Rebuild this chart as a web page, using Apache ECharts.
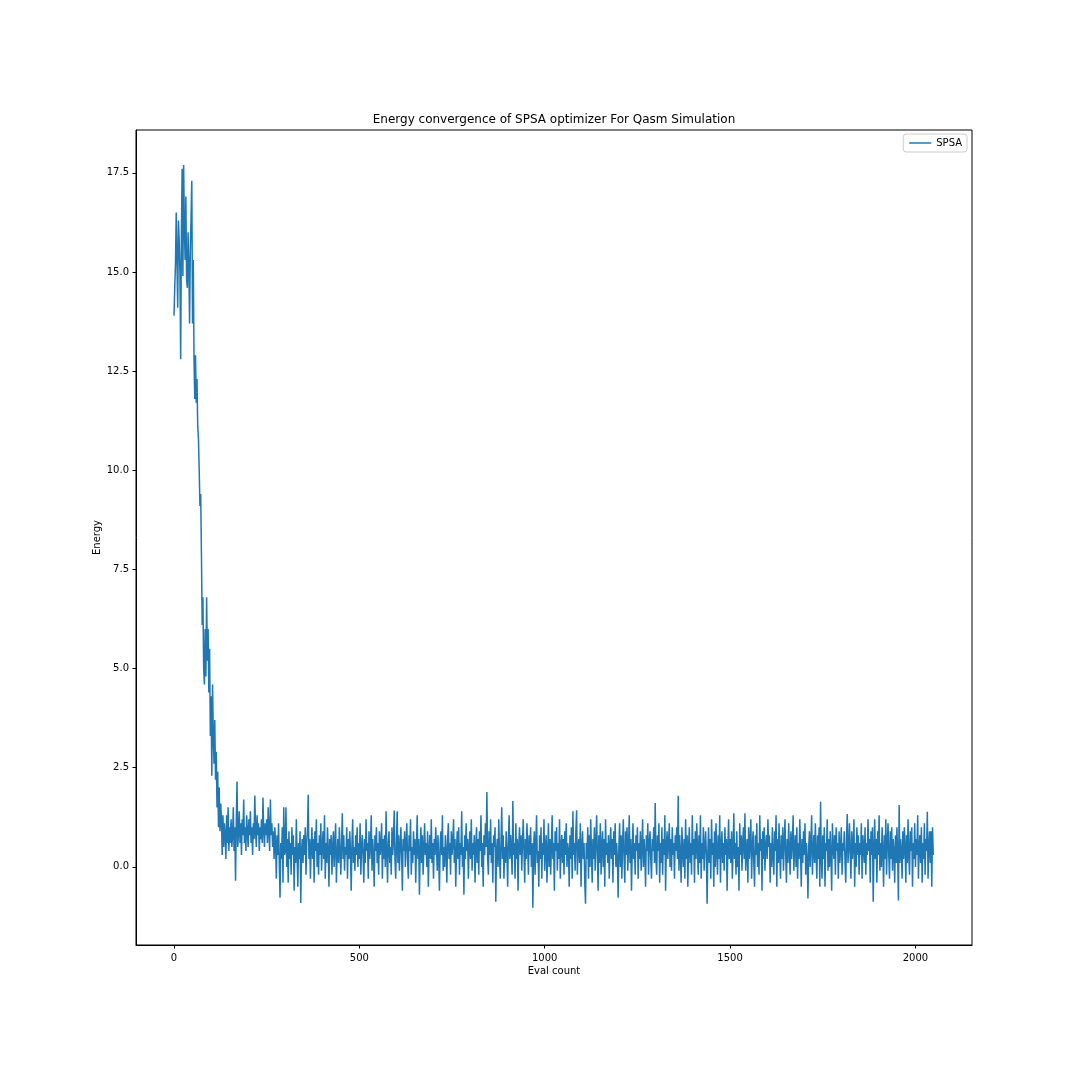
<!DOCTYPE html>
<html>
<head>
<meta charset="utf-8">
<script src="https://cdn.jsdelivr.net/npm/echarts@6/dist/echarts.min.js"></script>
<style>html,body{margin:0;padding:0;background:#fff}#c{width:1080px;height:1080px}</style>
</head>
<body>
<div id="c"></div>
<script>
const EVAL_STEP = 2; // eval count spacing between stored samples
const energy = [
13.9,14.6,15.2,16.5,15.3,14.1,16.3,15.8,15.0,12.8,16.0,17.6,14.9,17.7,16.1,15.3,16.9,14.8,14.6,16.0,15.2,13.7,15.5,16.4,17.3,
13.7,15.3,12.8,11.8,12.9,11.7,12.3,11.1,10.8,10.0,9.1,9.4,7.9,6.1,6.8,5.0,4.6,6.0,4.8,6.8,5.2,6.0,4.4,5.5,3.3,
4.3,2.3,4.6,3.3,2.6,3.7,2.2,2.9,1.5,2.4,1.0,2.0,0.9,1.6,1.2,0.3,1.3,0.5,1.1,0.8,0.2,1.3,0.6,1.5,0.4,
1.0,0.6,1.2,0.5,0.8,1.5,0.4,1.0,-0.35,1.1,2.15,0.5,0.9,1.4,0.6,1.1,0.3,1.2,0.8,1.7,0.6,1.0,0.4,1.3,0.9,
0.5,1.2,0.8,1.4,0.6,1.0,0.3,1.1,0.7,1.8,0.9,0.5,1.3,0.8,1.1,0.4,1.0,0.7,1.2,0.6,1.75,0.9,0.5,1.1,0.8,
1.2,0.6,1.5,0.9,0.4,1.7,0.8,1.1,0.5,0.9,0.2,1.0,0.6,-0.3,0.8,0.3,1.1,0.1,-0.78,0.6,0.2,1.0,-0.4,1.5,0.3,
0.4,1.5,0.0,0.7,-0.4,0.9,0.2,0.6,-0.2,1.0,0.3,0.8,-0.6,0.5,0.1,1.2,0.3,-0.5,0.6,0.2,0.9,-0.91,0.4,0.7,0.1,
0.8,0.3,1.0,-0.2,0.6,0.9,1.82,0.2,0.7,-0.3,0.5,1.0,0.2,0.7,-0.4,0.9,0.4,1.2,0.0,0.6,-0.2,0.8,0.3,1.1,-0.1,
0.5,0.9,0.2,1.3,-0.3,0.6,0.1,1.0,0.4,-0.5,0.7,0.3,0.8,-0.2,0.5,0.9,0.0,0.6,1.1,-0.4,0.3,0.7,0.1,1.0,0.4,
-0.2,0.6,1.35,0.2,0.8,-0.1,0.5,0.3,1.0,-0.3,0.7,0.2,0.9,0.4,-0.6,0.6,1.2,0.1,0.5,-0.1,0.8,0.3,1.0,0.0,0.6,
0.2,1.1,-0.2,0.5,0.8,0.3,-0.4,0.7,0.1,1.2,0.4,0.6,-0.3,0.9,0.2,0.5,1.3,-0.1,0.7,0.3,-0.5,0.8,0.4,1.0,0.1,
0.6,-0.2,0.9,0.3,0.5,1.1,-0.3,0.7,0.2,0.8,0.0,1.4,0.4,-0.4,0.6,0.9,0.1,0.5,-0.2,1.0,0.3,0.7,1.42,0.2,-0.3,
0.6,1.4,0.1,0.8,-0.1,0.5,1.0,0.3,-0.6,0.7,0.4,0.9,0.0,0.6,1.1,0.2,-0.3,0.8,0.4,1.2,-0.2,0.5,0.1,0.9,0.3,
0.7,-0.4,0.5,1.3,0.2,0.7,-0.7,0.4,1.0,0.1,0.8,-0.2,0.5,1.1,0.3,0.6,0.0,0.9,-0.5,0.4,0.8,0.2,1.2,0.1,0.6,
-0.3,0.7,0.3,1.0,0.5,-0.1,0.8,0.2,-0.6,0.6,0.9,0.3,1.3,-0.1,0.5,0.0,0.8,0.4,-0.4,0.7,1.1,0.2,0.6,-0.2,0.9,
0.3,0.6,1.2,0.1,0.7,-0.5,0.4,0.9,0.2,1.0,-0.2,0.6,0.3,1.4,0.0,0.5,-0.7,0.8,0.2,1.1,0.4,0.7,-0.3,0.5,0.9,
0.2,1.2,-0.1,0.6,0.3,0.8,-0.4,0.5,1.0,0.1,0.7,-0.2,0.9,0.4,1.3,0.0,0.6,-0.5,0.8,0.3,1.1,0.5,1.89,0.2,-0.2,
0.9,0.3,1.2,0.1,0.6,-0.4,0.8,0.5,1.0,-0.88,0.4,0.7,0.0,1.2,0.3,-0.3,0.6,1.5,0.2,0.8,-0.3,0.5,0.1,0.9,0.4,
-0.5,0.7,1.3,0.2,0.8,0.4,-0.2,1.66,0.3,0.6,-0.3,1.1,0.2,0.7,-0.6,0.5,1.0,0.3,0.8,-0.1,0.6,1.2,0.4,-0.4,0.7,
0.2,1.1,0.5,-0.2,0.8,0.3,1.0,0.0,0.6,-1.03,0.5,0.9,-0.2,0.6,1.3,0.1,0.4,-0.5,0.8,0.2,1.0,-0.3,0.6,0.3,1.2,
-0.1,0.5,0.8,-0.4,0.3,1.1,0.0,0.7,-0.2,0.5,1.3,0.2,0.6,-0.6,0.9,0.4,1.0,-0.1,0.6,0.2,1.2,-0.3,0.5,0.8,0.1,
0.7,-0.2,0.9,0.3,1.1,0.0,0.6,0.4,-0.5,0.8,0.2,1.0,-0.3,1.4,0.3,0.6,-0.1,0.9,1.43,-0.2,0.5,0.7,0.1,1.1,-0.5,
0.5,0.9,0.2,0.6,-0.4,-0.93,0.6,0.2,1.0,-0.3,0.8,0.0,1.2,0.4,-0.4,0.7,0.2,1.0,-0.1,0.6,1.3,0.3,-0.6,0.8,0.1,
1.1,-0.2,0.5,0.9,0.0,0.7,-0.5,1.2,0.3,0.6,0.1,0.8,-0.3,0.5,1.0,0.2,0.7,-0.4,0.9,0.3,1.1,0.0,0.6,0.2,-0.78,
0.5,1.1,0.0,0.8,-0.3,0.6,1.2,0.2,-0.4,0.9,0.3,1.0,-0.1,0.5,1.3,0.1,0.7,-0.6,0.4,1.1,0.2,0.6,-0.2,0.8,0.4,
1.0,-0.3,0.6,0.2,0.9,-0.1,0.5,1.2,0.0,0.7,0.3,-0.5,0.8,0.4,1.1,-0.2,0.6,0.9,0.2,-0.3,0.7,0.4,1.0,0.1,1.61,
0.2,-0.2,0.8,0.4,1.1,-0.4,0.6,0.1,1.0,-0.2,0.7,0.3,1.3,-0.6,0.5,0.9,0.2,0.6,1.1,0.0,0.7,-0.1,1.0,0.3,0.6,
-0.3,0.8,0.4,1.0,0.2,1.79,-0.1,0.8,0.3,-0.4,1.0,0.4,0.0,0.7,-0.3,1.2,0.2,0.8,-0.5,0.5,1.0,0.1,0.6,-0.2,1.3,
0.3,0.7,-0.4,0.9,0.2,1.1,0.5,-0.2,0.8,0.1,1.3,-0.3,0.6,0.2,1.0,-0.1,0.5,0.9,0.3,-0.93,0.4,1.0,0.1,0.7,-0.3,
1.2,0.3,0.6,-0.5,0.9,0.0,1.1,0.4,-0.2,0.8,0.2,1.3,-0.4,0.5,0.9,0.1,0.6,-0.1,1.0,0.3,0.7,-0.6,0.5,1.2,0.2,
0.7,0.1,0.9,-0.3,0.4,1.35,0.2,0.6,-0.2,0.9,0.0,0.5,-0.6,1.1,0.3,0.8,-0.1,0.6,1.0,0.2,1.35,-0.1,0.4,0.7,-0.4,
1.0,0.2,0.6,1.2,-0.3,0.5,0.9,0.1,-0.5,0.8,0.3,1.1,0.0,0.6,-0.2,1.3,0.4,0.7,-0.6,0.9,0.2,1.0,-0.1,0.5,0.8,
0.2,1.2,0.5,0.8,-0.4,0.6,0.0,1.0,0.3,-0.2,0.9,0.4,1.3,-0.5,0.7,0.1,1.1,0.3,-0.3,0.8,0.2,1.0,-0.1,0.6,1.2,
0.3,-0.4,0.7,0.1,1.1,0.4,-0.2,0.9,0.2,0.6,1.3,-0.1,0.5,0.8,0.0,1.0,-0.3,0.6,0.2,1.2,0.4,-0.5,0.7,0.1,0.9,
0.3,1.1,-0.2,0.6,0.2,-0.8,0.5,0.9,0.0,0.6,1.3,-0.2,0.4,0.8,0.1,1.1,0.3,-0.3,0.8,0.2,1.0,-0.5,1.64,0.3,-0.3,
0.8,0.2,1.0,-0.5,0.6,0.4,1.2,-0.1,0.7,0.0,0.9,0.3,-0.6,1.1,0.5,0.2,0.8,-0.2,1.0,0.4,0.6,-0.3,0.9,0.1,0.5,
1.0,-0.2,0.6,0.4,0.9,0.1,-0.4,0.7,1.33,0.1,0.5,1.1,0.3,-0.3,0.9,0.2,0.5,1.2,-0.5,0.6,0.0,1.0,0.3,0.8,-0.2,
0.6,0.3,1.1,-0.3,0.8,0.5,0.1,1.0,-0.2,0.6,0.3,1.2,0.4,0.7,-0.4,0.9,0.3,1.0,-0.88,0.4,1.2,0.2,0.7,-0.4,0.9,
0.3,1.3,-0.1,0.6,0.0,1.0,0.4,-0.5,0.8,0.2,1.2,-0.2,0.6,1.1,0.3,-0.3,0.9,0.2,1.0,-0.1,0.7,0.4,-0.4,0.8,0.1,
1.0,0.3,-0.85,1.56,0.1,0.7,0.4,-0.3,0.9,0.2,1.0,0.5,-0.4,0.8,0.1,1.2,0.3,-0.2,0.9,0.4,1.0,-0.5,0.6,0.2,1.1,
0.0,0.7,0.3,1.3,-0.3,0.5,0.8,0.1,1.0,-0.4,0.6,0.2,1.1,-0.2,0.7,0.4,1.39,-0.3,0.5,0.9,0.1,0.9,-0.5,1.0,0.3
];
const xTicks = [0, 500, 1000, 1500, 2000];
const yTicks = [0, 2.5, 5, 7.5, 10, 12.5, 15, 17.5];
const seriesName = 'SPSA';
const titleText = 'Energy convergence of SPSA optimizer For Qasm Simulation';

const points = energy.map((v, i) => [i * EVAL_STEP, v]);
const FONT = 'DejaVu Sans';
const chart = echarts.init(document.getElementById('c'), null, {renderer: 'canvas'});
chart.setOption({
  animation: false,
  backgroundColor: '#ffffff',
  textStyle: {fontFamily: FONT},
  grid: {left: 136, right: 108, top: 130, bottom: 135, show: true, borderColor: '#000', borderWidth: 1, backgroundColor: 'transparent', containLabel: false},
  graphic: [{
    type: 'text', x: 554, y: 120,
    style: {text: titleText, font: '12px "DejaVu Sans"', fill: '#000', align: 'center', verticalAlign: 'middle'}
  }],
  legend: {
    show: true, right: 113, top: 134, orient: 'vertical',
    padding: [4, 5, 4, 6], borderColor: '#cccccc', borderWidth: 1, borderRadius: 3,
    itemWidth: 22, itemHeight: 10, itemGap: 4,
    textStyle: {fontFamily: FONT, fontSize: 10, color: '#000'},
    data: [{name: seriesName, icon: 'path://M0,4.25 L22,4.25 L22,5.75 L0,5.75 Z'}]
  },
  xAxis: {
    type: 'value', min: -102.5, max: 2152.5,
    name: 'Eval count', nameLocation: 'middle', nameGap: 21, nameMoveOverlap: false,
    nameTextStyle: {fontFamily: FONT, fontSize: 10, color: '#000'},
    axisLine: {show: true, onZero: false, lineStyle: {color: '#000', width: 1}},
    axisTick: {show: true, length: 3.5, customValues: xTicks, lineStyle: {color: '#000'}},
    axisLabel: {show: true, margin: 8, customValues: xTicks, fontFamily: FONT, fontSize: 10, color: '#000', formatter: v => String(v)},
    splitLine: {show: false}
  },
  yAxis: {
    type: 'value', min: -1.97, max: 18.58,
    name: 'Energy', nameLocation: 'middle', nameGap: 34, nameRotate: 90, nameMoveOverlap: false,
    nameTextStyle: {fontFamily: FONT, fontSize: 10, color: '#000'},
    axisLine: {show: true, onZero: false, lineStyle: {color: '#000', width: 1}},
    axisTick: {show: true, length: 3.5, customValues: yTicks, lineStyle: {color: '#000'}},
    axisLabel: {show: true, margin: 7, customValues: yTicks, fontFamily: FONT, fontSize: 10, color: '#000', formatter: v => v.toFixed(1)},
    splitLine: {show: false}
  },
  series: [{
    name: seriesName, type: 'line', data: points,
    showSymbol: false, symbol: 'none', smooth: false,
    lineStyle: {color: '#1f77b4', width: 1.5},
    itemStyle: {color: '#1f77b4'},
    emphasis: {disabled: true}
  }]
});
</script>
</body>
</html>
